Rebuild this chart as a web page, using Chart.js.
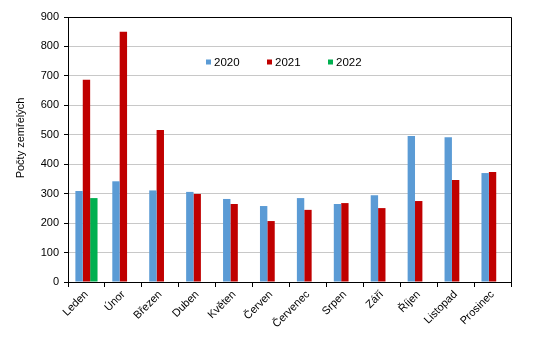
<!DOCTYPE html>
<html>
<head>
<meta charset="utf-8">
<script src="https://cdn.jsdelivr.net/npm/chart.js@4/dist/chart.umd.min.js"></script>
<style>
html,body{margin:0;padding:0;background:#fff;}
#wrap{width:535px;height:342px;}
</style>
</head>
<body>
<div id="wrap"><canvas id="c" width="535" height="342"></canvas></div>
<script>
const categories = ["Leden","Únor","Březen","Duben","Květen","Červen","Červenec","Srpen","Září","Říjen","Listopad","Prosinec"];
const values2020 = [309,342,311,306,282,258,285,265,295,496,492,370];
const values2021 = [687,850,516,299,265,207,245,268,251,275,346,374];
const values2022 = [285,null,null,null,null,null,null,null,null,null,null,null];
const seriesNames = ["2020","2021","2022"];
const seriesColors = ["#5B9BD5","#C00000","#00B050"];
const yTicks = [0,100,200,300,400,500,600,700,800,900];
const yTitle = "Počty zemřelých";

const FONT = "'Liberation Sans', Arial, sans-serif";

const frame = {
  id:'frame',
  afterDraw(chart){
    const {ctx, chartArea:a} = chart;
    ctx.save();
    ctx.strokeStyle = '#000';
    ctx.lineWidth = 1;
    ctx.beginPath();
    ctx.moveTo(a.left, Math.round(a.top)+0.5);
    ctx.lineTo(Math.round(a.right)+0.5, Math.round(a.top)+0.5);
    ctx.lineTo(Math.round(a.right)+0.5, a.bottom);
    ctx.stroke();
    // legend
    const xs = [206, 267, 328];
    ctx.font = "11.5px " + FONT;
    ctx.textBaseline = 'middle';
    const y = 62;
    seriesNames.forEach((n,i)=>{
      ctx.fillStyle = seriesColors[i];
      ctx.fillRect(xs[i], y-2.5, 5, 5);
      ctx.fillStyle = '#000';
      ctx.fillText(n, xs[i]+8, y+0.5);
    });
    // y axis title
    ctx.translate(24, 138);
    ctx.rotate(-Math.PI/2);
    ctx.textAlign = 'center';
    ctx.textBaseline = 'alphabetic';
    ctx.font = "11px " + FONT;
    ctx.fillStyle = '#000';
    ctx.fillText(yTitle, 0, 0);
    ctx.restore();
  }
};

new Chart(document.getElementById('c'), {
  type:'bar',
  data:{
    labels: categories,
    datasets:[
      {label:seriesNames[0], data:values2020, backgroundColor:seriesColors[0]},
      {label:seriesNames[1], data:values2021, backgroundColor:seriesColors[1]},
      {label:seriesNames[2], data:values2022, backgroundColor:seriesColors[2]}
    ]
  },
  options:{
    responsive:false,
    animation:false,
    devicePixelRatio:1,
    layout:{padding:{left:0, top:17, right:24, bottom:0}},
    datasets:{bar:{categoryPercentage:0.6, barPercentage:1.0}},
    plugins:{legend:{display:false}, tooltip:{enabled:false}},
    scales:{
      x:{
        offset:true,
        grid:{display:true, drawOnChartArea:false, offset:true, tickColor:'#000', tickLength:5},
        border:{color:'#000', width:1},
        ticks:{maxRotation:45, minRotation:45, color:'#000', padding:1, font:{family:FONT, size:11}},
        afterFit(s){ s.height = 60; }
      },
      y:{
        min:0, max:900,
        afterBuildTicks(s){ s.ticks = yTicks.map(v=>({value:v})); },
        grid:{color:'#c8c8c8', tickColor:'#000', tickLength:4},
        border:{color:'#000', width:1},
        ticks:{color:'#000', padding:5, font:{family:FONT, size:11}},
        title:{display:false},
        afterFit(s){ s.width = 68; }
      }
    }
  },
  plugins:[frame]
});
</script>
</body>
</html>
